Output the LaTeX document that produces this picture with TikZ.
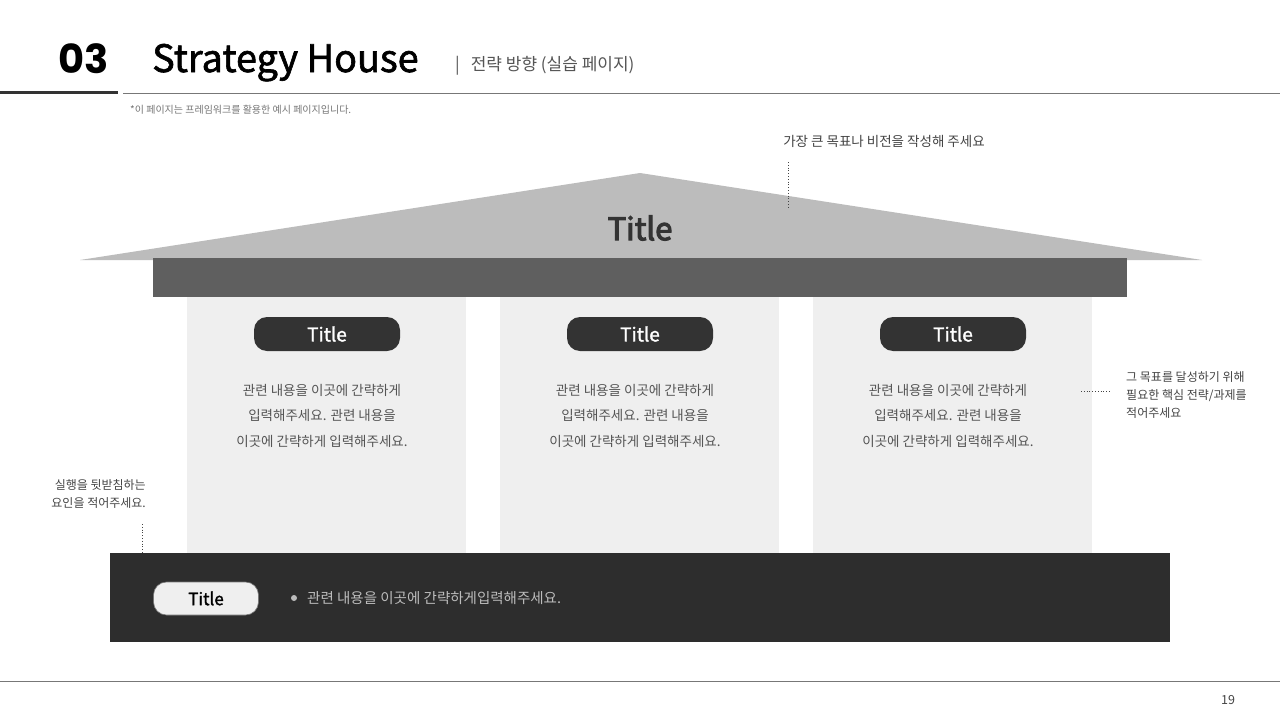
\documentclass[tikz,border=0pt]{standalone}
\usepackage{fontspec}
\setmainfont{Noto Sans CJK KR}
\newfontfamily\numfont{Poppins}
\newfontfamily\medfont[FakeBold=1.6]{Noto Sans CJK KR}
\newfontfamily\semifont[FakeBold=3.6]{Noto Sans CJK KR}
\definecolor{roofc}{HTML}{BCBCBC}
\definecolor{beamc}{HTML}{5F5F5F}
\definecolor{pillarc}{HTML}{EFEFEF}
\definecolor{darkc}{HTML}{2D2D2D}
\definecolor{pillc}{HTML}{333333}
\definecolor{bodyc}{HTML}{555555}
\definecolor{notec}{HTML}{444444}
\definecolor{rulec}{HTML}{777777}
\begin{document}
\begin{tikzpicture}[x=1pt,y=-1pt,
  pillbox/.style={fill=pillc,rounded corners=13pt,minimum width=146pt,minimum height=34pt,inner sep=0pt,text=white,font=\medfont\fontsize{19}{22}\selectfont},
  bodytext/.style={align=center,text=bodyc,font=\fontsize{13.5}{25.5}\selectfont,inner sep=0pt},
  annot/.style={text=notec,inner sep=0pt},
  dotline/.style={draw=notec,dotted,line width=0.8pt}]
\useasboundingbox (0,0) rectangle (1280,720);
\fill[white] (0,0) rectangle (1280,720);
% header
\node[anchor=base west,inner sep=0pt,font=\numfont\bfseries\fontsize{40}{44}\selectfont] (num) at (58,73) {03};
\node[anchor=base west,inner sep=0pt,font=\medfont\fontsize{37.8}{44}\selectfont] (title) at (152,72) {Strategy House};
\node[anchor=base west,inner sep=0pt,text=bodyc,font=\fontsize{17}{20}\selectfont] (sub) at (455,70) {|\hspace{11pt}전략 방향 (실습 페이지)};
\fill[pillc] (0,90.5) rectangle (118,94);
\draw[rulec,line width=1pt] (123,93) -- (1280,93);
\node[anchor=west,inner sep=0pt,text=rulec,font=\fontsize{10}{12}\selectfont] (note) at (130,110) {*이 페이지는 프레임워크를 활용한 예시 페이지입니다.};
% roof
\fill[roofc] (640,173) -- (1202,260) -- (80,260) -- cycle;
\node[inner sep=0pt,text=pillc,font=\semifont\fontsize{31}{36}\selectfont] (rooft) at (640,228) {Title};
% vision annotation
\node[annot,font=\fontsize{13.5}{16}\selectfont] (vision) at (884,141) {가장 큰 목표나 비전을 작성해 주세요};
\coordinate (v1) at (788,162);
\coordinate (v2) at (788,209);
\draw[dotline] (v1) -- (v2);
% pillars
\foreach \xa in {187,500,813}{
  \fill[pillarc] (\xa,297) rectangle (\xa+279,553);
}
% beam
\fill[beamc] (153,258) rectangle (1127,297);
\foreach \cx/\n in {327/a,640/b,953/c}{
  \node[pillbox] (p\n) at (\cx,334) {Title};
  \node[bodytext,anchor=north] (t\n) at (\cx-5,384) {관련 내용을 이곳에 간략하게\\입력해주세요. 관련 내용을\\이곳에 간략하게 입력해주세요.};
}
% right annotation
\node[annot,anchor=north west,align=left,font=\fontsize{12}{18}\selectfont] (strat) at (1126,371) {그 목표를 달성하기 위해\\필요한 핵심 전략/과제를\\적어주세요};
\coordinate (r1) at (1081,391);
\coordinate (r2) at (1110,391);
\draw[dotline] (r1) -- (r2);
% left annotation
\node[annot,anchor=north east,align=right,font=\fontsize{12}{18}\selectfont] (support) at (146,479) {실행을 뒷받침하는\\요인을 적어주세요.};
\coordinate (l1) at (142,524);
\coordinate (l2) at (142,553);
\draw[dotline] (l1) -- (l2);
% foundation
\fill[darkc] (110,553) rectangle (1170,642);
\node[fill=pillarc,draw=rulec,line width=0.6pt,rounded corners=13pt,minimum width=105pt,minimum height=33pt,inner sep=0pt,font=\medfont\fontsize{17}{20}\selectfont] (fp) at (206,598.5) {Title};
\fill[roofc] (294,598) circle (3pt);
\node[anchor=west,inner sep=0pt,text=roofc,font=\fontsize{14.5}{16}\selectfont] (ft) at (307,598) {관련 내용을 이곳에 간략하게입력해주세요.};
% footer
\draw[rulec,line width=1pt] (0,681) -- (1280,681);
\node[inner sep=0pt,text=notec,font=\fontsize{12.5}{14}\selectfont] (pg) at (1228,700) {19};
\end{tikzpicture}
\end{document}
